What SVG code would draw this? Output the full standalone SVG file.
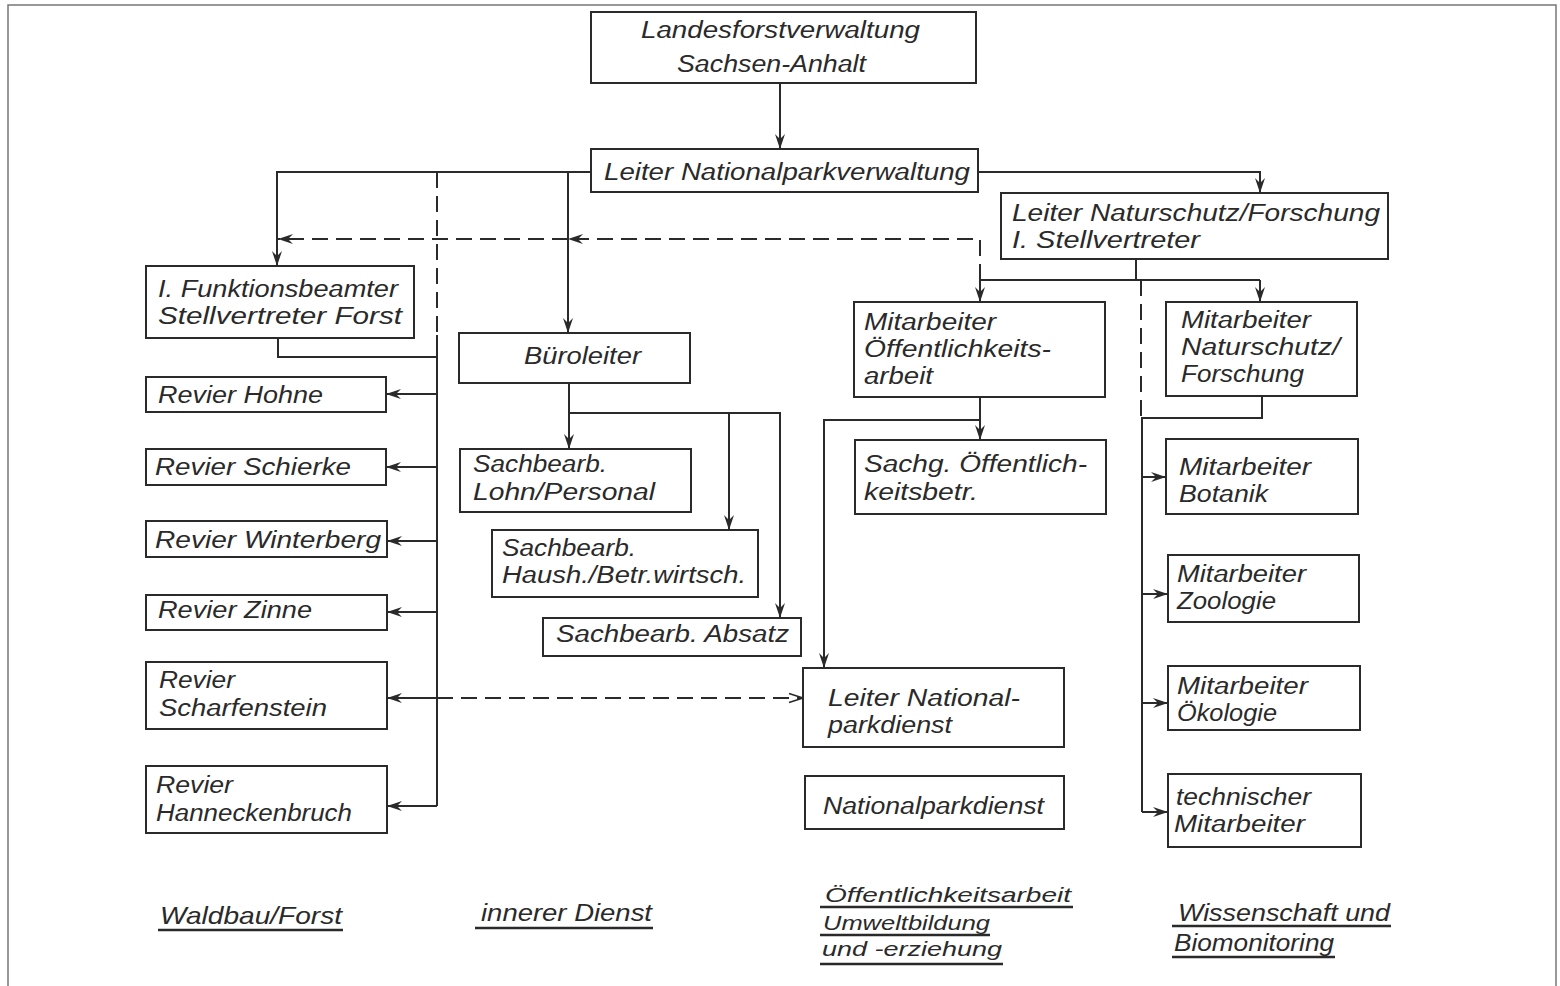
<svg xmlns="http://www.w3.org/2000/svg" width="1560" height="986" viewBox="0 0 1560 986">
<style>
.box{fill:#fff;stroke:#2a2a2a;stroke-width:2}
.t{font-family:"Liberation Sans","DejaVu Sans",sans-serif;font-style:italic;font-size:23px;fill:#2a2a2a}
.b{font-family:"Liberation Sans","DejaVu Sans",sans-serif;font-style:italic;font-size:24px;fill:#2a2a2a}
.bs{font-family:"Liberation Sans","DejaVu Sans",sans-serif;font-style:italic;font-size:21px;fill:#2a2a2a}
.ln{fill:none;stroke:#2a2a2a;stroke-width:2}
.d{fill:none;stroke:#2a2a2a;stroke-width:2;stroke-dasharray:16 8}
.ul{stroke:#2a2a2a;stroke-width:2.5}
.frame{fill:none;stroke:#777;stroke-width:1.5}
</style>
<defs>
<marker id="ah" markerUnits="userSpaceOnUse" markerWidth="16" markerHeight="12" refX="15" refY="6" orient="auto">
<path d="M0,1 L15,6 L0,11 L5,6 Z" fill="#2a2a2a"/>
</marker>
<marker id="ao" markerUnits="userSpaceOnUse" markerWidth="16" markerHeight="12" refX="15" refY="6" orient="auto">
<path d="M1,1.5 L15,6 L1,10.5" fill="none" stroke="#2a2a2a" stroke-width="1.8"/>
</marker>
</defs>
<rect width="1560" height="986" fill="#fff"/>
<path class="frame" d="M8 986 V5 H1556 V986"/>

<g id="connectors">
<path class="ln" d="M780 83 V149" marker-end="url(#ah)"/>
<path class="ln" d="M591 172 H277 V266" marker-end="url(#ah)"/>
<path class="ln" d="M568 172 V333" marker-end="url(#ah)"/>
<path class="d" d="M437 172 V335"/>
<path class="ln" d="M278 338 V357 H437"/>
<path class="ln" d="M437 335 V806"/>
<path class="ln" d="M437 394 H386" marker-end="url(#ah)"/>
<path class="ln" d="M437 467 H386" marker-end="url(#ah)"/>
<path class="ln" d="M437 541 H387" marker-end="url(#ah)"/>
<path class="ln" d="M437 612 H387" marker-end="url(#ah)"/>
<path class="ln" d="M437 698 H387" marker-end="url(#ah)"/>
<path class="ln" d="M437 806 H387" marker-end="url(#ah)"/>
<path class="d" d="M437 698 H803" marker-end="url(#ao)"/>
<path class="d" d="M980 280 V239 H568" marker-end="url(#ah)"/>
<path class="d" d="M568 239 H278" marker-end="url(#ah)"/>
<path class="ln" d="M978 172 H1260 V193" marker-end="url(#ah)"/>
<path class="ln" d="M1136 259 V280"/>
<path class="ln" d="M980 280 H1260"/>
<path class="ln" d="M980 280 V302" marker-end="url(#ah)"/>
<path class="ln" d="M1260 280 V302" marker-end="url(#ah)"/>
<path class="d" d="M1141 280 V418"/>
<path class="ln" d="M1262 396 V418 H1142 V812"/>
<path class="ln" d="M1142 477 H1166" marker-end="url(#ah)"/>
<path class="ln" d="M1142 594 H1168" marker-end="url(#ah)"/>
<path class="ln" d="M1142 703 H1168" marker-end="url(#ah)"/>
<path class="ln" d="M1142 812 H1168" marker-end="url(#ah)"/>
<path class="ln" d="M569 383 V449" marker-end="url(#ah)"/>
<path class="ln" d="M569 413 H780 V618" marker-end="url(#ah)"/>
<path class="ln" d="M729 413 V530" marker-end="url(#ah)"/>
<path class="ln" d="M980 397 V440" marker-end="url(#ah)"/>
<path class="ln" d="M980 420 H824 V668" marker-end="url(#ah)"/>
</g>

<g id="n-landes"><rect class="box" x="591" y="12" width="385" height="71"/>
<text class="t" x="641" y="38" textLength="279" lengthAdjust="spacingAndGlyphs">Landesforstverwaltung</text>
<text class="t" x="677" y="72" textLength="189" lengthAdjust="spacingAndGlyphs">Sachsen-Anhalt</text></g>

<g id="n-leiter-npv"><rect class="box" x="591" y="149" width="387" height="43"/>
<text class="t" x="604" y="180" textLength="366" lengthAdjust="spacingAndGlyphs">Leiter Nationalparkverwaltung</text></g>

<g id="n-leiter-nf"><rect class="box" x="1001" y="193" width="387" height="66"/>
<text class="t" x="1012" y="221" textLength="368" lengthAdjust="spacingAndGlyphs">Leiter Naturschutz/Forschung</text>
<text class="t" x="1012" y="248" textLength="188" lengthAdjust="spacingAndGlyphs">I. Stellvertreter</text></g>

<g id="n-funktion"><rect class="box" x="146" y="266" width="268" height="72"/>
<text class="t" x="158" y="297" textLength="240" lengthAdjust="spacingAndGlyphs">I. Funktionsbeamter</text>
<text class="t" x="158" y="324" textLength="244" lengthAdjust="spacingAndGlyphs">Stellvertreter Forst</text></g>

<g id="n-hohne"><rect class="box" x="146" y="377" width="240" height="35"/>
<text class="t" x="158" y="403" textLength="165" lengthAdjust="spacingAndGlyphs">Revier Hohne</text></g>

<g id="n-schierke"><rect class="box" x="146" y="449" width="240" height="36"/>
<text class="t" x="155" y="475" textLength="196" lengthAdjust="spacingAndGlyphs">Revier Schierke</text></g>

<g id="n-winterberg"><rect class="box" x="146" y="521" width="241" height="36"/>
<text class="t" x="155" y="548" textLength="226" lengthAdjust="spacingAndGlyphs">Revier Winterberg</text></g>

<g id="n-zinne"><rect class="box" x="146" y="595" width="241" height="35"/>
<text class="t" x="158" y="618" textLength="154" lengthAdjust="spacingAndGlyphs">Revier Zinne</text></g>

<g id="n-scharfenstein"><rect class="box" x="146" y="662" width="241" height="67"/>
<text class="t" x="159" y="688" textLength="76" lengthAdjust="spacingAndGlyphs">Revier</text>
<text class="t" x="159" y="716" textLength="168" lengthAdjust="spacingAndGlyphs">Scharfenstein</text></g>

<g id="n-hanneckenbruch"><rect class="box" x="146" y="766" width="241" height="67"/>
<text class="t" x="156" y="793" textLength="77" lengthAdjust="spacingAndGlyphs">Revier</text>
<text class="t" x="156" y="821" textLength="196" lengthAdjust="spacingAndGlyphs">Hanneckenbruch</text></g>

<g id="n-bueroleiter"><rect class="box" x="459" y="333" width="231" height="50"/>
<text class="t" x="524" y="364" textLength="117" lengthAdjust="spacingAndGlyphs">Büroleiter</text></g>

<g id="n-lohn"><rect class="box" x="460" y="449" width="231" height="63"/>
<text class="t" x="473" y="472" textLength="134" lengthAdjust="spacingAndGlyphs">Sachbearb.</text>
<text class="t" x="473" y="500" textLength="182" lengthAdjust="spacingAndGlyphs">Lohn/Personal</text></g>

<g id="n-haush"><rect class="box" x="492" y="530" width="266" height="67"/>
<text class="t" x="502" y="556" textLength="134" lengthAdjust="spacingAndGlyphs">Sachbearb.</text>
<text class="t" x="502" y="583" textLength="244" lengthAdjust="spacingAndGlyphs">Haush./Betr.wirtsch.</text></g>

<g id="n-absatz"><rect class="box" x="543" y="618" width="258" height="38"/>
<text class="t" x="556" y="642" textLength="233" lengthAdjust="spacingAndGlyphs">Sachbearb. Absatz</text></g>

<g id="n-ma-oeff"><rect class="box" x="854" y="302" width="251" height="95"/>
<text class="t" x="864" y="330" textLength="132" lengthAdjust="spacingAndGlyphs">Mitarbeiter</text>
<text class="t" x="864" y="357" textLength="187" lengthAdjust="spacingAndGlyphs">Öffentlichkeits-</text>
<text class="t" x="864" y="384" textLength="69" lengthAdjust="spacingAndGlyphs">arbeit</text></g>

<g id="n-sachg"><rect class="box" x="855" y="440" width="251" height="74"/>
<text class="t" x="864" y="472" textLength="223" lengthAdjust="spacingAndGlyphs">Sachg. Öffentlich-</text>
<text class="t" x="864" y="500" textLength="114" lengthAdjust="spacingAndGlyphs">keitsbetr.</text></g>

<g id="n-leiter-npd"><rect class="box" x="803" y="668" width="261" height="79"/>
<text class="t" x="828" y="706" textLength="192" lengthAdjust="spacingAndGlyphs">Leiter National-</text>
<text class="t" x="828" y="733" textLength="124" lengthAdjust="spacingAndGlyphs">parkdienst</text></g>

<g id="n-npd"><rect class="box" x="805" y="776" width="259" height="53"/>
<text class="t" x="823" y="814" textLength="221" lengthAdjust="spacingAndGlyphs">Nationalparkdienst</text></g>

<g id="n-ma-nf"><rect class="box" x="1166" y="302" width="191" height="94"/>
<text class="t" x="1181" y="328" textLength="130" lengthAdjust="spacingAndGlyphs">Mitarbeiter</text>
<text class="t" x="1181" y="355" textLength="159" lengthAdjust="spacingAndGlyphs">Naturschutz/</text>
<text class="t" x="1181" y="382" textLength="123" lengthAdjust="spacingAndGlyphs">Forschung</text></g>

<g id="n-botanik"><rect class="box" x="1166" y="439" width="192" height="75"/>
<text class="t" x="1179" y="475" textLength="132" lengthAdjust="spacingAndGlyphs">Mitarbeiter</text>
<text class="t" x="1179" y="502" textLength="89" lengthAdjust="spacingAndGlyphs">Botanik</text></g>

<g id="n-zoologie"><rect class="box" x="1168" y="555" width="191" height="67"/>
<text class="t" x="1177" y="582" textLength="129" lengthAdjust="spacingAndGlyphs">Mitarbeiter</text>
<text class="t" x="1177" y="609" textLength="99" lengthAdjust="spacingAndGlyphs">Zoologie</text></g>

<g id="n-oekologie"><rect class="box" x="1168" y="666" width="192" height="64"/>
<text class="t" x="1177" y="694" textLength="131" lengthAdjust="spacingAndGlyphs">Mitarbeiter</text>
<text class="t" x="1177" y="721" textLength="100" lengthAdjust="spacingAndGlyphs">Ökologie</text></g>

<g id="n-technisch"><rect class="box" x="1168" y="774" width="193" height="73"/>
<text class="t" x="1176" y="805" textLength="135" lengthAdjust="spacingAndGlyphs">technischer</text>
<text class="t" x="1174" y="832" textLength="131" lengthAdjust="spacingAndGlyphs">Mitarbeiter</text></g>

<g id="labels">
<text class="b" x="160" y="924" textLength="182" lengthAdjust="spacingAndGlyphs">Waldbau/Forst</text>
<line class="ul" x1="158" y1="930" x2="343" y2="930"/>
<text class="b" x="481" y="921" textLength="171" lengthAdjust="spacingAndGlyphs">innerer Dienst</text>
<line class="ul" x1="475" y1="928" x2="653" y2="928"/>
<text class="bs" x="825" y="902" textLength="246" lengthAdjust="spacingAndGlyphs">Öffentlichkeitsarbeit</text>
<line class="ul" x1="820" y1="907" x2="1073" y2="907"/>
<text class="bs" x="823" y="930" textLength="167" lengthAdjust="spacingAndGlyphs">Umweltbildung</text>
<line class="ul" x1="820" y1="935" x2="990" y2="935"/>
<text class="bs" x="822" y="956" textLength="180" lengthAdjust="spacingAndGlyphs">und -erziehung</text>
<line class="ul" x1="820" y1="964" x2="1003" y2="964"/>
<text class="b" x="1178" y="921" textLength="212" lengthAdjust="spacingAndGlyphs">Wissenschaft und</text>
<line class="ul" x1="1172" y1="926" x2="1391" y2="926"/>
<text class="b" x="1174" y="951" textLength="160" lengthAdjust="spacingAndGlyphs">Biomonitoring</text>
<line class="ul" x1="1172" y1="957" x2="1335" y2="957"/>
</g>
</svg>
